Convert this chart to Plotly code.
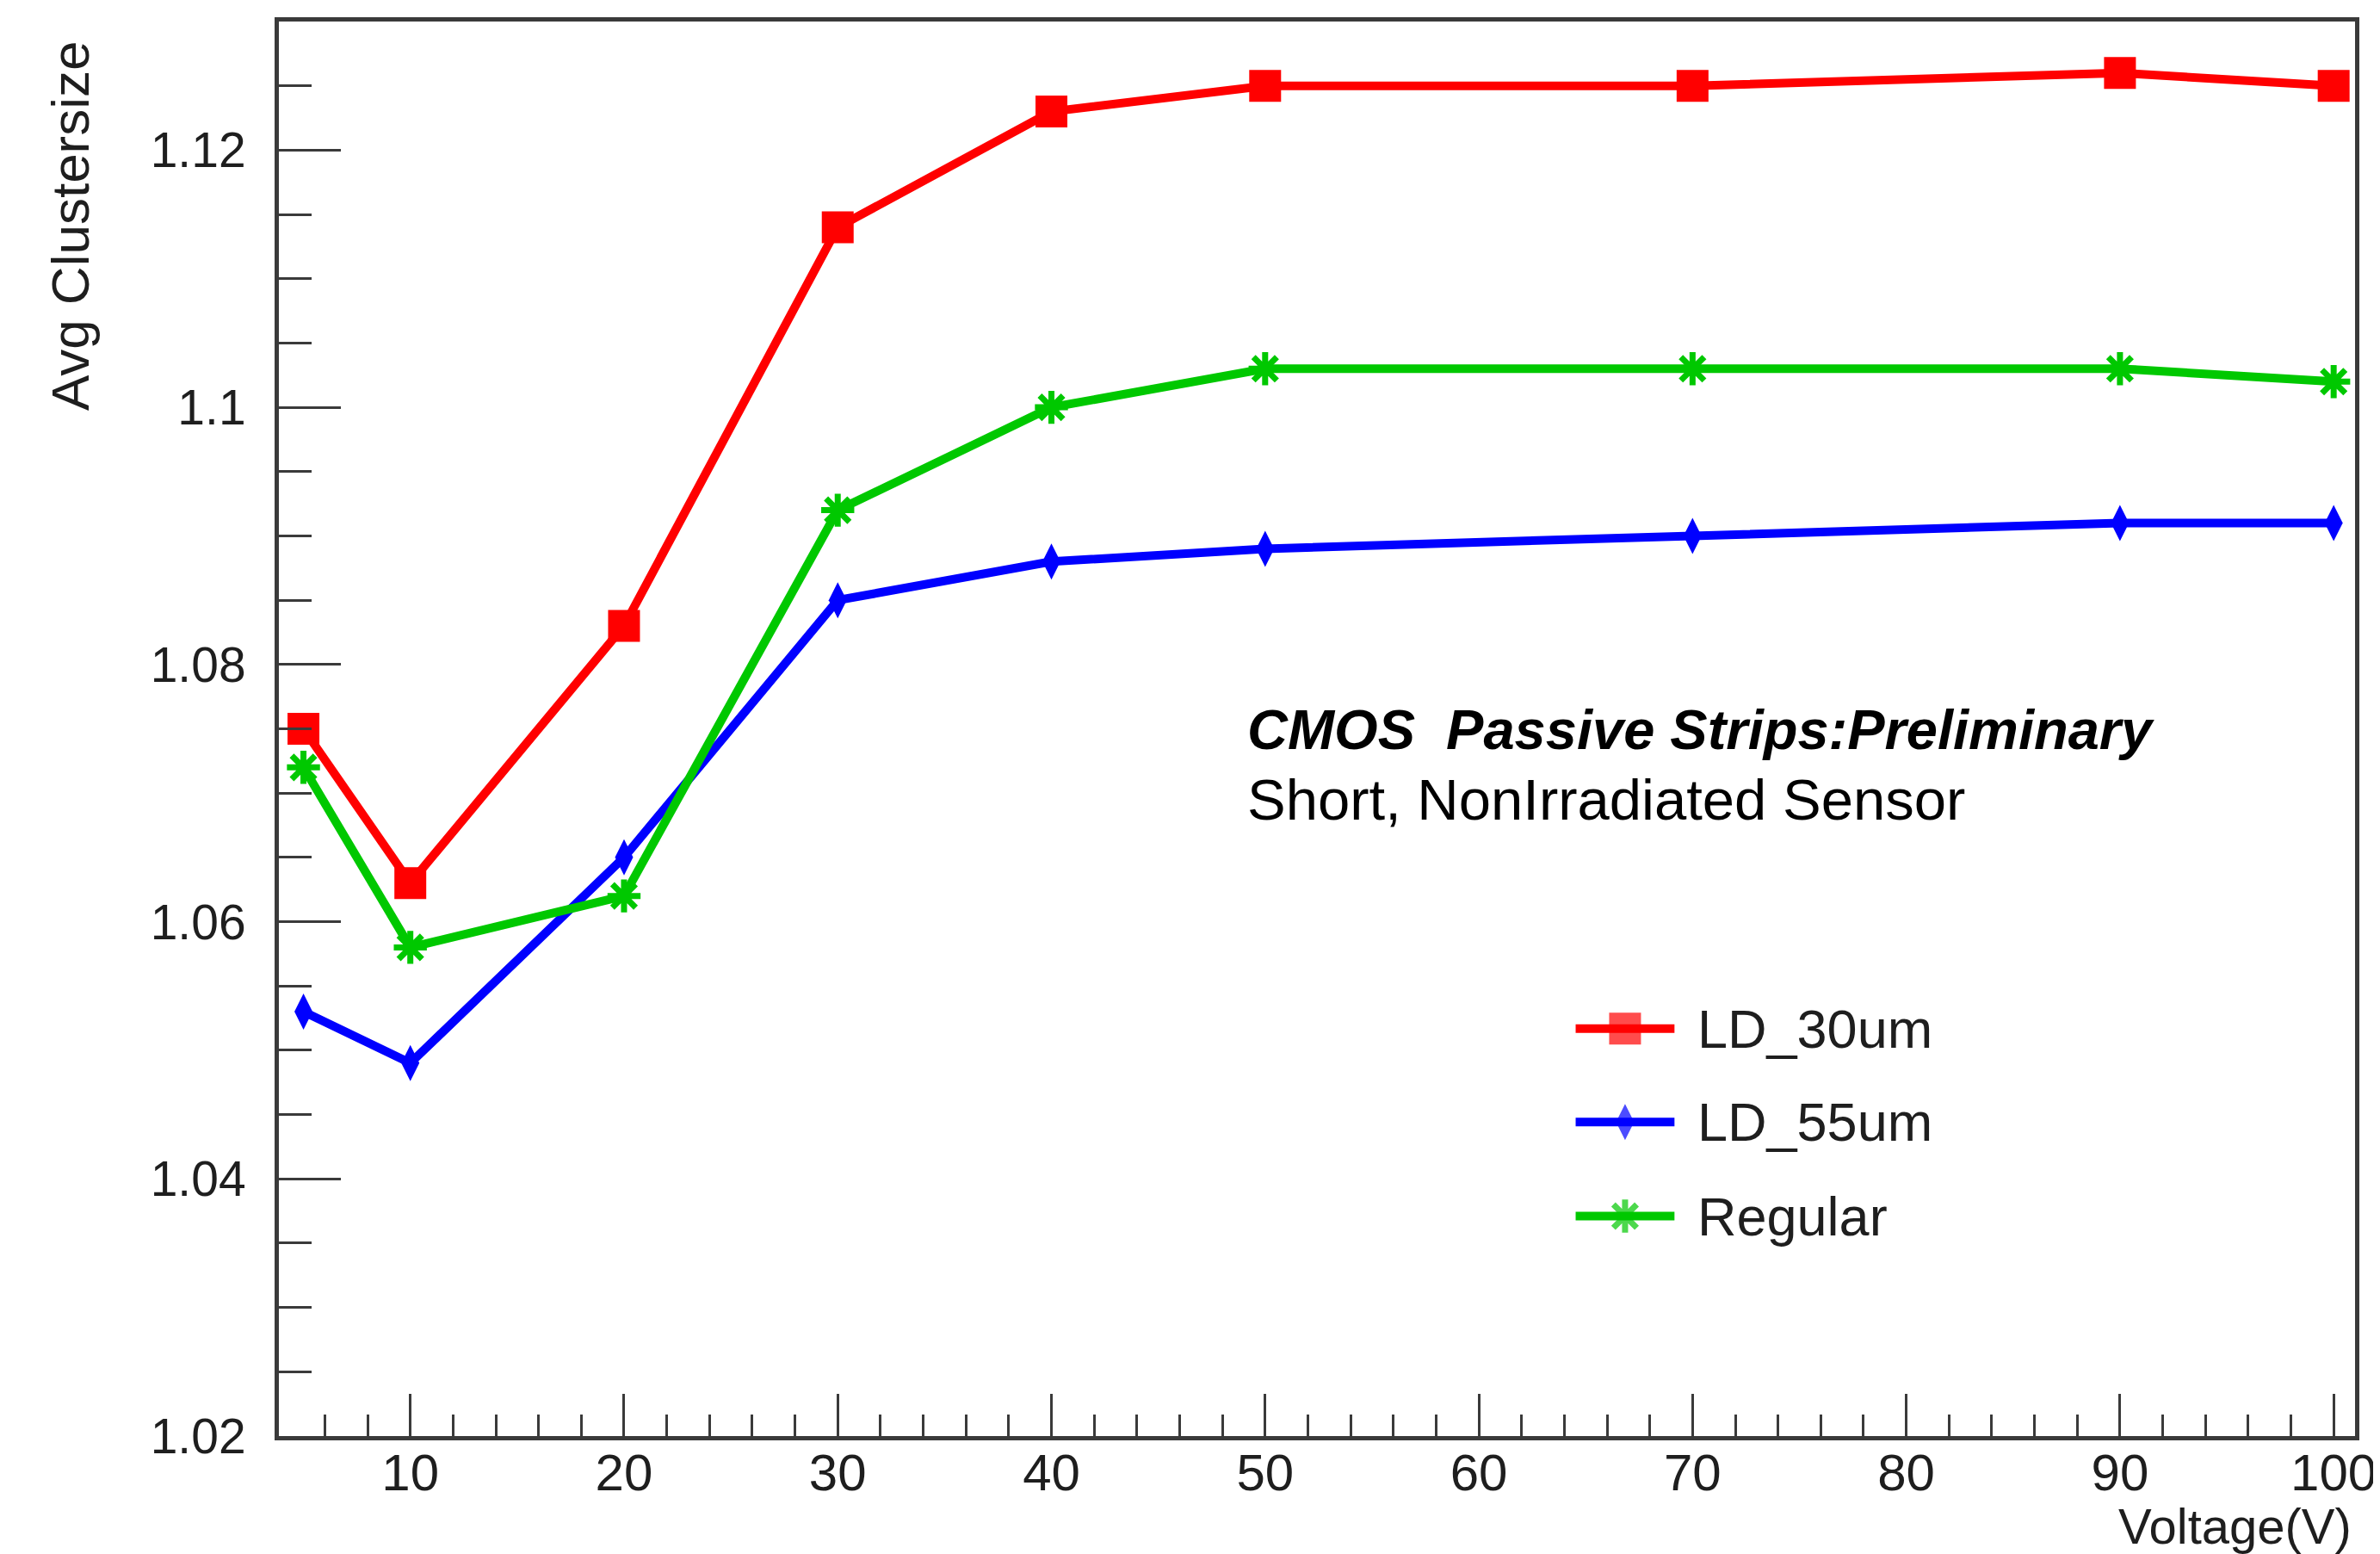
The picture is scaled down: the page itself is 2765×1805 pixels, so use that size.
import plotly.graph_objects as go

# ---- data ----
voltage = [5, 10, 20, 30, 40, 50, 70, 90, 100]
ld30 = [1.075, 1.063, 1.083, 1.114, 1.123, 1.125, 1.125, 1.126, 1.125]
ld55 = [1.053, 1.049, 1.065, 1.085, 1.088, 1.089, 1.090, 1.091, 1.091]
regular = [1.072, 1.058, 1.062, 1.092, 1.100, 1.103, 1.103, 1.103, 1.102]
series_names = ["LD_30um", "LD_55um", "Regular"]
xtick_vals = [10, 20, 30, 40, 50, 60, 70, 80, 90, 100]
xtick_text = ["10", "20", "30", "40", "50", "60", "70", "80", "90", "100"]
ytick_vals = [1.02, 1.04, 1.06, 1.08, 1.10, 1.12]
ytick_text = ["1.02", "1.04", "1.06", "1.08", "1.1", "1.12"]
xminor_vals = [v for v in range(6, 101, 2) if v % 10]

W, H = 2765, 1805
L, R, T, B = 316, 33, 17, 145
FONT = "Liberation Sans, Arial, Helvetica, sans-serif"
AX = "#3a3a3a"
TXT = "#1e1e1e"

styles = [
    dict(color="#ff0000", symbol="square", size=37, lw=0),
    dict(color="#0000ff", symbol="diamond-tall", size=30, lw=0),
    dict(color="#00c800", symbol="asterisk-open", size=32, lw=7),
]

fig = go.Figure()
for name, ys, st in zip(series_names, [ld30, ld55, regular], styles):
    fig.add_trace(go.Scatter(
        x=voltage, y=ys, name=name, mode="lines+markers",
        line=dict(color=st["color"], width=10),
        marker=dict(symbol=st["symbol"], size=st["size"], color=st["color"],
                    line=dict(color=st["color"], width=st["lw"])),
        showlegend=False, cliponaxis=False,
    ))

# ---- custom legend (samples drawn on an invisible overlay axis) ----
leg_x = [0.6246, 0.6484, 0.6722]
leg_rows = [0.2880, 0.2220, 0.1555]
for name, st, ry in zip(series_names, styles, leg_rows):
    fig.add_trace(go.Scatter(
        x=leg_x, y=[ry] * 3, xaxis="x2", yaxis="y2", mode="lines+markers",
        line=dict(color=st["color"], width=10),
        marker=dict(symbol=st["symbol"], size=[0, st["size"], 0], color=st["color"],
                    line=dict(color=st["color"], width=st["lw"])),
        showlegend=False, hoverinfo="skip",
    ))
    fig.add_annotation(x=0.6826, y=ry, xref="paper", yref="paper", text=name,
                       showarrow=False, xanchor="left", yanchor="middle",
                       font=dict(family=FONT, size=63, color=TXT))

fig.update_layout(
    width=W, height=H,
    margin=dict(l=L, r=R, t=T, b=B),
    paper_bgcolor="white", plot_bgcolor="white",
    xaxis=dict(
        range=[3.85, 101], tickvals=xtick_vals, ticktext=xtick_text,
        ticks="inside", ticklen=49, tickwidth=3, tickcolor=AX,
        minor=dict(tickvals=xminor_vals, ticks="inside", ticklen=25, tickwidth=3, tickcolor=AX),
        showline=True, linecolor=AX, linewidth=5, mirror=True,
        showgrid=False, zeroline=False,
        tickfont=dict(family=FONT, size=60, color=TXT),
        ticklabelstandoff=-14,
    ),
    yaxis=dict(
        range=[1.02, 1.13], tickvals=ytick_vals, ticktext=ytick_text,
        ticks="inside", ticklen=72, tickwidth=3, tickcolor=AX,
        minor=dict(dtick=0.005, tick0=1.0, ticks="inside", ticklen=38, tickwidth=3, tickcolor=AX),
        showline=True, linecolor=AX, linewidth=5, mirror=True,
        showgrid=False, zeroline=False,
        tickfont=dict(family=FONT, size=57, color=TXT),
        ticklabelstandoff=22,
    ),
    xaxis2=dict(range=[0, 1], overlaying="x", anchor="y2", visible=False),
    yaxis2=dict(range=[0, 1], overlaying="y", anchor="x2", visible=False),
)

# axis titles
fig.add_annotation(x=-0.1006, y=0.988, xref="paper", yref="paper",
                   text="Avg Clustersize", textangle=-90, showarrow=False,
                   xanchor="center", yanchor="top",
                   font=dict(family=FONT, size=62, color=TXT))
fig.add_annotation(x=0.9992, y=-0.0635, xref="paper", yref="paper",
                   text="Voltage(V)", showarrow=False,
                   xanchor="right", yanchor="middle",
                   font=dict(family=FONT, size=58, color=TXT))

# text box
fig.add_annotation(x=0.4657, y=0.4992, xref="paper", yref="paper",
                   text="<b><i>CMOS\u00a0 Passive Strips:Preliminary</i></b>",
                   showarrow=False, xanchor="left", yanchor="middle",
                   font=dict(family=FONT, size=65, color="black"))
fig.add_annotation(x=0.4657, y=0.4499, xref="paper", yref="paper",
                   text="Short, NonIrradiated Sensor",
                   showarrow=False, xanchor="left", yanchor="middle",
                   font=dict(family=FONT, size=67, color="black"))

fig.write_html("out.html")
